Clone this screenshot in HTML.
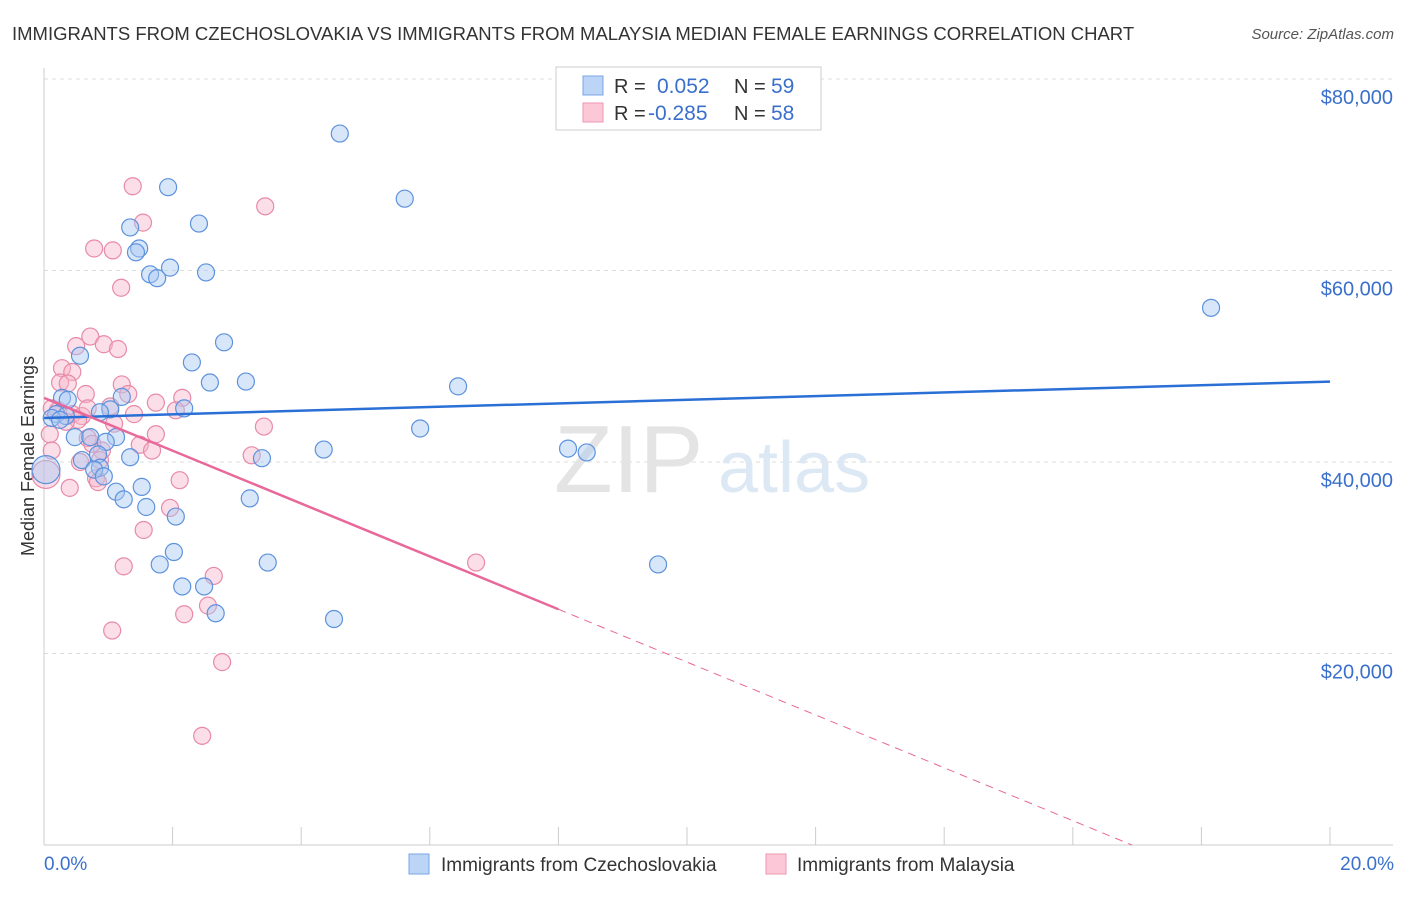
<!DOCTYPE html>
<html><head><meta charset="utf-8"><style>
body{margin:0;background:#fff;font-family:"Liberation Sans",sans-serif;}
svg text{font-family:"Liberation Sans",sans-serif;}
</style></head><body>
<svg id="chart" width="1406" height="892" xmlns="http://www.w3.org/2000/svg">
<text x="12" y="40" font-size="18.5" fill="#333">IMMIGRANTS FROM CZECHOSLOVAKIA VS IMMIGRANTS FROM MALAYSIA MEDIAN FEMALE EARNINGS CORRELATION CHART</text>
<text x="1394" y="39" font-size="15" fill="#555" text-anchor="end" font-style="italic">Source: ZipAtlas.com</text>
<g id="grid"></g>
<text x="554" y="492" font-size="96" fill="#e4e4e4" font-family="Liberation Serif">ZIP</text>
<text x="718" y="492" font-size="72" fill="#dde8f5">atlas</text>
<text transform="translate(34,456) rotate(-90)" font-size="18" fill="#333" text-anchor="middle">Median Female Earnings</text>
<g id="marks"></g>
<g>
<rect x="556" y="67" width="265" height="63" fill="#fff" stroke="#ccc"/>
<rect x="583" y="76" width="20" height="19" fill="#bcd4f5" stroke="#7aa6e6"/>
<rect x="583" y="103" width="20" height="19" fill="#fcc8d8" stroke="#ee97b2"/>
<text x="614" y="93" font-size="20" fill="#333">R =</text>
<text x="657" y="93" font-size="21" fill="#3a70cc">0.052</text>
<text x="734" y="93" font-size="20" fill="#333">N =</text>
<text x="771" y="93" font-size="21" fill="#3a70cc">59</text>
<text x="614" y="120" font-size="20" fill="#333">R =</text>
<text x="648" y="120" font-size="21" fill="#3a70cc">-0.285</text>
<text x="734" y="120" font-size="20" fill="#333">N =</text>
<text x="771" y="120" font-size="21" fill="#3a70cc">58</text>
</g>
<g>
<rect x="409" y="854" width="20" height="20" fill="#bcd4f5" stroke="#7aa6e6"/>
<text x="441" y="871" font-size="19" fill="#333">Immigrants from Czechoslovakia</text>
<rect x="766" y="854" width="20" height="20" fill="#fcc8d8" stroke="#ee97b2"/>
<text x="797" y="871" font-size="19" fill="#333">Immigrants from Malaysia</text>
</g>
<text x="44" y="870" font-size="19" fill="#3a70cc">0.0%</text>
<text x="1394" y="870" font-size="19" fill="#3a70cc" text-anchor="end">20.0%</text>
</svg>
<script>
const yTicks=[20000,40000,60000,80000];
const yTickLabels=["$20,000","$40,000","$60,000","$80,000"];
const xTicks=[0,2,4,6,8,10,12,14,16,18,20];
const blueX=[4.60,5.61,1.93,2.41,1.34,1.48,1.43,1.65,1.76,1.96,2.52,18.15,2.80,0.56,2.30,2.58,3.14,6.44,0.28,1.21,1.03,2.18,0.19,0.34,0.12,0.25,5.85,0.48,0.72,1.12,0.96,4.35,8.15,8.44,3.39,0.84,1.34,0.59,0.87,0.78,0.03,1.12,1.52,1.24,3.20,1.59,2.05,2.02,1.80,3.48,9.55,2.15,2.49,2.67,4.51,0.87,0.37,0.93];
const blueY=[74300,67500,68700,64900,64500,62300,61900,59600,59200,60300,59800,56100,52500,51100,50400,48300,48400,47900,46700,46800,45500,45600,45000,44800,44600,44400,43500,42600,42600,42600,42100,41300,41400,41000,40400,40800,40500,40200,39400,39200,39200,36900,37400,36100,36200,35300,34300,30600,29300,29500,29300,27000,27000,24200,23600,45200,46500,38500];
const pinkX=[1.38,3.44,1.54,0.78,1.07,1.20,0.72,0.93,0.50,1.15,0.28,0.44,0.25,0.37,1.21,0.65,1.31,1.74,2.15,1.03,2.05,0.12,0.22,0.44,0.59,1.40,0.53,1.09,3.42,0.09,1.74,0.68,1.49,1.68,3.23,0.12,0.90,0.56,0.81,0.84,2.11,0.40,1.96,1.55,6.72,1.24,2.64,2.55,2.18,1.06,2.77,2.46,0.03,0.75,0.34,0.87,0.68];
const pinkY=[68800,66700,65000,62300,62100,58200,53100,52300,52100,51800,49800,49400,48300,48200,48100,47100,47100,46200,46700,45800,45400,45600,45400,45000,44800,45000,44400,44000,43700,42900,42900,42500,41800,41200,40700,41200,41200,40000,38300,37900,38100,37300,35200,32900,29500,29100,28100,25000,24100,22400,19100,11400,38700,41900,44200,40200,45600];
const blueTrend=[44600,48400];
const pinkTrend=[46700,-2760];
(function(){
const NS="http://www.w3.org/2000/svg";
const sx=v=>44+v/20*1286;
const sy=v=>845-v/20000*191.5;
function mk(t,a,p){const e=document.createElementNS(NS,t);for(const k in a)e.setAttribute(k,a[k]);p.appendChild(e);return e;}
const grid=document.getElementById('grid'),marks=document.getElementById('marks');
yTicks.forEach((v,i)=>{
 const l=mk('line',{x1:44,x2:1393,y1:sy(v),y2:sy(v),stroke:'#ddd','stroke-dasharray':'4,4'},grid);
 
 
 const t=mk('text',{x:1393,y:sy(v)+25,'font-size':20,fill:'#3a70cc','text-anchor':'end'},grid);
 t.textContent=yTickLabels[i];
 
 
});
const ax=mk('line',{x1:44,x2:1393,y1:845,y2:845,stroke:'#ccc'},grid);


const ay=mk('line',{x1:44,x2:44,y1:68,y2:845,stroke:'#ccc'},grid);


xTicks.forEach(v=>{
 const t=mk('line',{x1:sx(v),x2:sx(v),y1:827,y2:845,stroke:'#ccc'},grid);
 
 
});
function pts(X,Y,fill,stroke,name){
 X.forEach((x,i)=>{
  const big=x<0.05;
  const c=mk('circle',{cx:sx(x),cy:sy(Y[i]),r:big?14:8.5,fill:fill,'fill-opacity':0.45,stroke:stroke,'stroke-width':1.2},marks);
  
  
 });
}
pts(pinkX,pinkY,'#f7b6ca','#e88aa8','malaysia-point');
pts(blueX,blueY,'#a9c8f2','#5d92dd','czechoslovakia-point');
const bl=mk('line',{x1:sx(0),y1:sy(blueTrend[0]),x2:sx(20),y2:sy(blueTrend[1]),stroke:'#2a6fd6','stroke-width':2.5},marks);


const pf=x=>pinkTrend[0]+pinkTrend[1]*x;
const x0=-pinkTrend[0]/pinkTrend[1];
const pl=mk('line',{x1:sx(0),y1:sy(pf(0)),x2:sx(8),y2:sy(pf(8)),stroke:'#e8689a','stroke-width':2.5},marks);


const pd=mk('line',{x1:sx(8),y1:sy(pf(8)),x2:sx(x0),y2:sy(0),stroke:'#e8689a','stroke-width':1,'stroke-dasharray':'8,6'},marks);


})();
</script>
</body></html>
